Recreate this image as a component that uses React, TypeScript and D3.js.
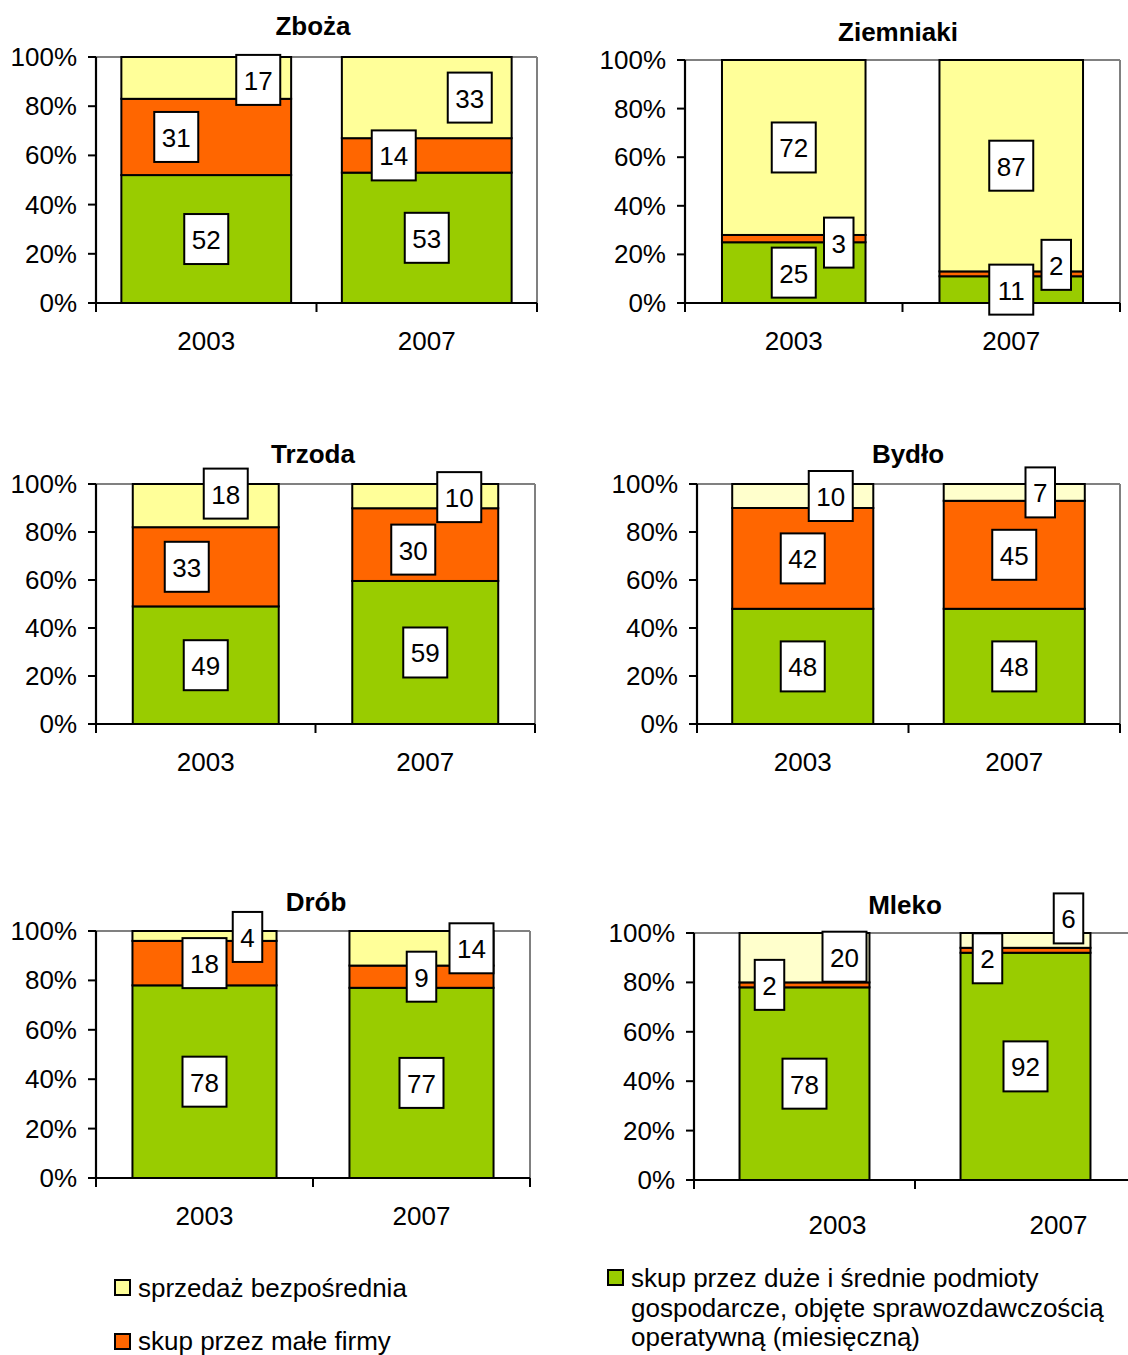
import React from "react";
import * as d3 from "d3";

// ---------- DATA ----------
const years = ["2003", "2007"];
const seriesKeys = ["duze", "male", "bezposrednia"]; // stacked bottom -> top
const panelTitles = ["Zboża", "Ziemniaki", "Trzoda", "Bydło", "Drób", "Mleko"];

// [year][series]: duże i średnie podmioty, małe firmy, sprzedaż bezpośrednia
const zbozaValues = [[52, 31, 17], [53, 14, 33]];
const ziemniakiValues = [[25, 3, 72], [11, 2, 87]];
const trzodaValues = [[49, 33, 18], [59, 30, 10]];
const bydloValues = [[48, 42, 10], [48, 45, 7]];
const drobValues = [[78, 18, 4], [77, 9, 14]];
const mlekoValues = [[78, 2, 20], [92, 2, 6]];

const yTicks = [0, 0.2, 0.4, 0.6, 0.8, 1];

const legendLabels = [
  ["sprzedaż bezpośrednia"],
  ["skup przez małe firmy"],
  ["skup przez duże i średnie podmioty", "gospodarcze, objęte sprawozdawczością", "operatywną (miesięczną)"],
];

// ---------- LAYOUT / STYLE ----------
const GREEN = "#99CC00";
const ORANGE = "#FF6600";
const YELLOW = "#FFFF99";
const PALE = "#FFFFCC";
const FONT = "'Liberation Sans', Arial, Helvetica, sans-serif";

const panels = [
  { left: 96, right: 537, top: 57, bottom: 303, pad: 0.23, tx: 313, ty: 26, ly: 341, ldx: 0, yellow: YELLOW },
  { left: 685, right: 1120, top: 60, bottom: 303, pad: 0.34, tx: 898, ty: 32, ly: 341, ldx: 0, yellow: YELLOW },
  { left: 96, right: 535, top: 484, bottom: 724, pad: 0.335, tx: 313, ty: 454, ly: 762, ldx: 0, yellow: YELLOW },
  { left: 697, right: 1120, top: 484, bottom: 724, pad: 0.333, tx: 908, ty: 454, ly: 762, ldx: 0, yellow: PALE },
  { left: 96, right: 530, top: 931, bottom: 1178, pad: 0.336, tx: 316, ty: 902, ly: 1216, ldx: 0, yellow: YELLOW },
  { left: 694, right: 1136, top: 933, bottom: 1180, pad: 0.412, tx: 905, ty: 905, ly: 1225, ldx: 33, yellow: PALE },
];

// manual label nudges (px) per panel [year][series] = [dx, dy]
const labelNudges = [
  [[[0, 0], [-30, 0], [52, 2]], [[0, 0], [-33, 0], [43, 0]]],
  [[[0, 0], [45, 4], [0, 0]], [[0, 0], [45, -9], [0, 0]]],
  [[[0, 0], [-19, 0], [20, -12]], [[0, 0], [-12, 5], [34, 1]]],
  [[[0, 0], [0, 0], [28, 0]], [[0, 0], [0, 0], [26, 0]]],
  [[[0, 0], [0, 0], [43, 1]], [[0, 0], [0, 0], [50, 0]]],
  [[[0, 0], [-35, 0], [40, -1]], [[0, 0], [-38, 8], [43, -22]]],
];

const panelValues = [zbozaValues, ziemniakiValues, trzodaValues, bydloValues, drobValues, mlekoValues];

function Panel({ idx }: { idx: number }) {
  const spec = panels[idx];
  const values = panelValues[idx];
  const colors = [GREEN, ORANGE, spec.yellow];
  const x = d3
    .scaleBand<string>()
    .domain(years)
    .range([spec.left, spec.right])
    .paddingInner(spec.pad)
    .paddingOuter(spec.pad / 2);
  const y = d3.scaleLinear().domain([0, 1]).range([spec.bottom, spec.top]);
  const rows = years.map((yr, i) => {
    const r: any = { year: yr };
    seriesKeys.forEach((k, j) => (r[k] = values[i][j]));
    return r;
  });
  const stacked = d3.stack<any>().keys(seriesKeys).offset(d3.stackOffsetExpand)(rows);
  const step = x.step();
  const boundaries = d3.range(years.length + 1).map((i) => spec.left + i * step);
  const fmt = d3.format(".0%");

  const labelW = (t: string) => t.length * 14.5 + 15;

  return (
    <g>
      <text x={spec.tx} y={spec.ty} textAnchor="middle" dominantBaseline="central" fontWeight="bold" fontSize={26}>
        {panelTitles[idx]}
      </text>
      {/* plot area frame (grey top/right) */}
      <line x1={spec.left} x2={spec.right} y1={spec.top} y2={spec.top} stroke="#808080" strokeWidth={2} />
      <line x1={spec.right} x2={spec.right} y1={spec.top} y2={spec.bottom} stroke="#808080" strokeWidth={2} />
      {/* bars */}
      {stacked.map((s, si) =>
        s.map((d, yi) => (
          <rect
            key={`${si}-${yi}`}
            x={x(years[yi])}
            width={x.bandwidth()}
            y={y(d[1])}
            height={y(d[0]) - y(d[1])}
            fill={colors[si]}
            stroke="#000"
            strokeWidth={2}
          />
        ))
      )}
      {/* y axis */}
      <line x1={spec.left} x2={spec.left} y1={spec.top} y2={spec.bottom} stroke="#000" strokeWidth={2.2} />
      {yTicks.map((t) => (
        <g key={t}>
          <line x1={spec.left - 8} x2={spec.left} y1={y(t)} y2={y(t)} stroke="#000" strokeWidth={2} />
          <text x={spec.left - 19} y={y(t)} textAnchor="end" dominantBaseline="central" fontSize={26}>
            {fmt(t)}
          </text>
        </g>
      ))}
      {/* x axis */}
      <line x1={spec.left - 8} x2={spec.right} y1={spec.bottom} y2={spec.bottom} stroke="#000" strokeWidth={2.2} />
      {boundaries.map((b, i) => (
        <line key={i} x1={b} x2={b} y1={spec.bottom} y2={spec.bottom + 9} stroke="#000" strokeWidth={2} />
      ))}
      {years.map((yr) => (
        <text
          key={yr}
          x={(x(yr) as number) + x.bandwidth() / 2 + spec.ldx}
          y={spec.ly}
          textAnchor="middle"
          dominantBaseline="central"
          fontSize={26}
        >
          {yr}
        </text>
      ))}
      {/* data labels */}
      {stacked.map((s, si) =>
        s.map((d, yi) => {
          const txt = String(values[yi][si]);
          const [dx, dy] = labelNudges[idx][yi][si];
          const cx = (x(years[yi]) as number) + x.bandwidth() / 2 + dx;
          const cy = y((d[0] + d[1]) / 2) + dy;
          const w = labelW(txt);
          const h = 50;
          return (
            <g key={`l${si}-${yi}`}>
              <rect x={cx - w / 2} y={cy - h / 2} width={w} height={h} fill="#fff" stroke="#000" strokeWidth={2} />
              <text x={cx} y={cy + 1} textAnchor="middle" dominantBaseline="central" fontSize={26}>
                {txt}
              </text>
            </g>
          );
        })
      )}
    </g>
  );
}

export default function App() {
  const legendColors = [YELLOW, ORANGE, GREEN];
  const legendPos = [
    { bx: 115, by: 1280, tx: 138, ty: 1288 },
    { bx: 115, by: 1334, tx: 138, ty: 1341 },
    { bx: 608, by: 1270, tx: 631, ty: 1278 },
  ];
  return (
    <svg
      width={1128}
      height={1355}
      style={{ position: "absolute", left: 0, top: 0, background: "#fff" }}
      fontFamily={FONT}
    >
      <rect width={1128} height={1355} fill="#fff" />
      {panels.map((_, i) => (
        <Panel key={i} idx={i} />
      ))}
      {legendLabels.map((lines, i) => (
        <g key={i}>
          <rect x={legendPos[i].bx} y={legendPos[i].by} width={15} height={15} fill={legendColors[i]} stroke="#000" strokeWidth={2} />
          {lines.map((ln, j) => (
            <text key={j} x={legendPos[i].tx} y={legendPos[i].ty + j * 29.5} dominantBaseline="central" fontSize={26}>
              {ln}
            </text>
          ))}
        </g>
      ))}
    </svg>
  );
}
